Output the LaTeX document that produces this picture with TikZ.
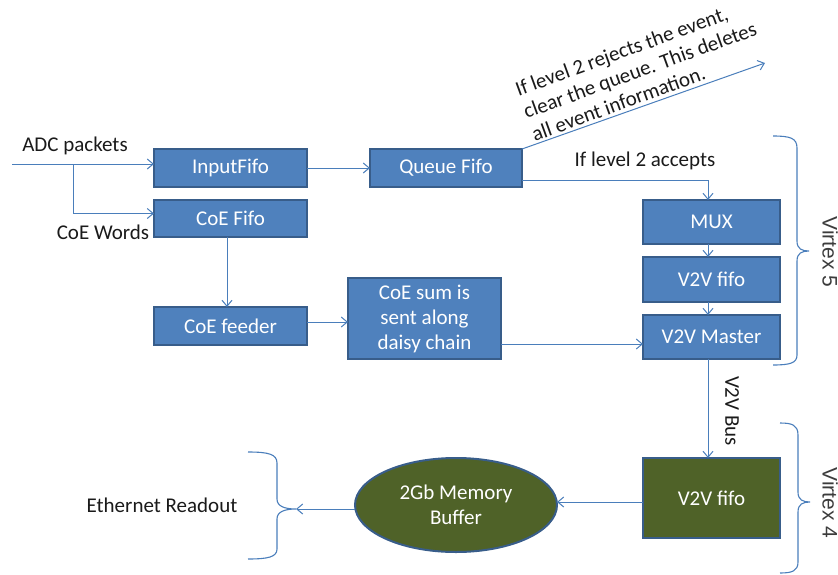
\documentclass[tikz,border=0pt]{standalone}
\usepackage{fontspec}
\setmainfont{Carlito}
\newfontfamily\arialfont{Liberation Sans}
\usetikzlibrary{arrows.meta,shapes.geometric}
\definecolor{boxfill}{HTML}{4F81BD}
\definecolor{boxline}{HTML}{385D8A}
\definecolor{greenfill}{HTML}{4F6228}
\definecolor{arrowc}{HTML}{4A7EBB}
\definecolor{labelc}{HTML}{1A1A1A}
\begin{document}
\begin{tikzpicture}[x=1pt,y=-1pt,
  every node/.style={font=\fontsize{21}{25}\selectfont, inner sep=0pt, outer sep=0pt},
  blk/.style={draw=boxline, fill=boxfill, line width=2pt, text=white, align=center},
  gblk/.style={draw=boxline, fill=greenfill, line width=2pt, text=white, align=center},
  arr/.style={draw=arrowc, line width=1pt, -{Straight Barb[length=6pt,width=10pt]}},
  brace/.style={draw=arrowc, line width=1.1pt},
  lbl/.style={text=labelc},
  vlbl/.style={text=labelc!85, rotate=-90, font=\arialfont\fontsize{21}{25}\selectfont}
]
\useasboundingbox (0,0) rectangle (838,574);

% boxes
\node[blk, minimum width=153pt, minimum height=38pt] (in) at (230.5,168) {InputFifo};
\node[blk, minimum width=153pt, minimum height=37pt] (coe) at (230.5,218.5) {CoE Fifo};
\node[blk, minimum width=152pt, minimum height=38pt] (queue) at (446,168) {Queue Fifo};
\node[blk, minimum width=137pt, minimum height=44pt] (mux) at (711.5,222) {MUX};
\node[blk, minimum width=137pt, minimum height=45pt] (v2v) at (711.5,279.5) {V2V fifo};
\node[blk, minimum width=137pt, minimum height=44pt] (master) at (711.5,337) {V2V Master};
\node[blk, minimum width=153pt, minimum height=38pt] (feeder) at (230.5,326) {CoE feeder};
\node[blk, minimum width=153pt, minimum height=81pt] (sum) at (424.5,318.5) {CoE sum is\\sent along\\daisy chain};
\node[gblk, minimum width=137pt, minimum height=80pt] (fifo4) at (711.5,498) {V2V fifo};
\node[gblk, ellipse, minimum width=202pt, minimum height=94pt] (mem) at (456,505) {2Gb Memory\\Buffer};

% labels
\node[lbl] (adclbl) at (75,146) {ADC packets};
\node[lbl] (coelbl) at (103,232) {CoE Words};
\node[lbl] (acclbl) at (645,161) {If level 2 accepts};
\node[lbl, rotate=-90] (buslbl) at (732,411) {V2V Bus};
\node[vlbl] (v5lbl) at (830,252) {Virtex 5};
\node[vlbl] (v4lbl) at (830,503) {Virtex 4};
\node[lbl] (ethlbl) at (162,505) {Ethernet Readout};
\node[lbl, rotate=20, align=left, font=\fontsize{21}{24}\selectfont] (rejlbl) at (640,70) {If level 2 rejects the event,\\clear the queue. This deletes\\all event information.};

% coordinates
\coordinate (adc) at (12,164);
\coordinate (br) at (73,164);
\coordinate (rej) at (765,63);
\coordinate (ethtip) at (296,509);
\coordinate (q1) at ([yshift=-12pt]queue.east);
\coordinate (s1) at ([yshift=-25.5pt]sum.east);
\coordinate (f1) at ([yshift=4pt]feeder.east);
\coordinate (g1) at ([yshift=-4pt]fifo4.west);

% connectors
\draw[arr] (adc) -- (adc -| in.west);
\draw[arr] (br) |- ([yshift=5pt]coe.west);
\draw[arr] (in.east) -- (queue.west);
\draw[arr] (q1) -| ([xshift=-3.5pt]mux.north);
\draw[arr] (queue.north east) -- (rej);
\draw[arr] ([xshift=-3.5pt]mux.south) -- ([xshift=-3.5pt]v2v.north);
\draw[arr] ([xshift=-3.5pt]v2v.south) -- ([xshift=-3.5pt]master.north);
\draw[arr] ([xshift=-3.5pt]coe.south) -- ([xshift=-3.5pt]feeder.north);
\draw[arr] (f1) -- (f1 -| sum.west);
\draw[arr] (s1) -- (s1 -| master.west);
\draw[arr] ([xshift=-3.5pt]master.south) -- ([xshift=-3.5pt]fifo4.north);
\draw[arr] (g1) -- (g1 -| mem.east);
\draw[arr] (mem.west |- ethtip) -- (ethtip);

% braces
\draw[brace] (773,136) .. controls (790,136) and (797,138) .. (797,148) -- (797,241)
  .. controls (797,249) and (802,251) .. (809,251)
  .. controls (802,251) and (797,253) .. (797,261) -- (797,355)
  .. controls (797,363) and (790,365) .. (773,365);
\draw[brace] (780,423) .. controls (792,423) and (798,425) .. (798,435) -- (798,492)
  .. controls (798,500) and (803,502) .. (810,502)
  .. controls (803,502) and (798,504) .. (798,512) -- (798,562)
  .. controls (798,571) and (792,573) .. (780,573);
\draw[brace] (248,452) .. controls (268,452) and (277,454) .. (277,463) -- (277,499)
  .. controls (277,506) and (284,509) .. (296,509)
  .. controls (284,509) and (277,512) .. (277,519) -- (277,549)
  .. controls (277,557) and (268,559) .. (248,559);
\end{tikzpicture}
\end{document}
